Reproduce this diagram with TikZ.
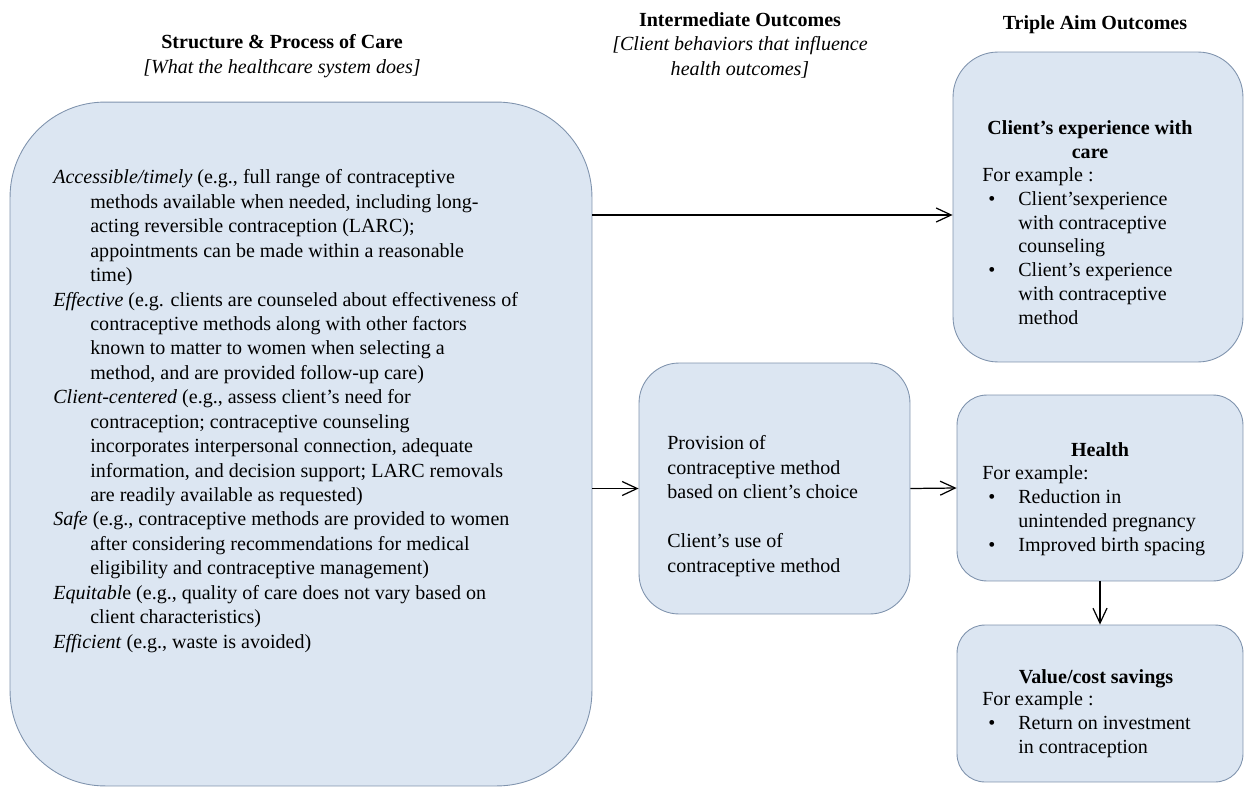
\documentclass[tikz,border=0pt]{standalone}
\usepackage{fontspec}
\setmainfont{Liberation Serif}
\usetikzlibrary{arrows.meta,positioning}
\definecolor{boxfill}{HTML}{DCE6F2}
\definecolor{boxline}{HTML}{7F93AD}
\newcommand{\ind}{\hspace*{0.74cm}}
\newcommand{\bul}{\hspace*{0.12cm}\makebox[0.6cm][l]{\textbullet}}
\newcommand{\cont}{\hspace*{0.72cm}}

\begin{document}
\begin{tikzpicture}[x=0.02cm, y=-0.02cm, font=\fontsize{11.4}{13.9}\selectfont,
 >={Straight Barb[length=3mm,width=2.8mm]},
 box/.style={draw=boxline,fill=boxfill,line width=.5pt,inner sep=0pt},
 arr/.style={->,line width=.7pt},
 txt/.style={inner sep=0pt,align=left,anchor=base west},
 rtxt/.style={txt,font=\fontsize{11.4}{13.5}\selectfont},
 head/.style={inner sep=0pt,align=center,anchor=base}]
\useasboundingbox (0,0) rectangle (1245,788);
% boxes
\node[box,rounded corners=1.9cm,minimum width=11.64cm,minimum height=13.68cm] (care) at (301,444) {};
\node[box,rounded corners=.8cm,minimum width=5.42cm,minimum height=5.02cm] (mid) at (774.5,488.5) {};
\node[box,rounded corners=.9cm,minimum width=5.8cm,minimum height=6.2cm] (exp) at (1098,207) {};
\node[box,rounded corners=.6cm,minimum width=5.72cm,minimum height=3.72cm] (health) at (1100,488) {};
\node[box,rounded corners=.56cm,minimum width=5.72cm,minimum height=3.14cm] (value) at (1100,703.5) {};
% column headings (base = last line)
\node[head] (hcare) at (282,73) {\textbf{Structure \& Process of Care}\\\textit{[What the healthcare system does]}};
\node[head] (hmid) at (740,75) {\textbf{Intermediate Outcomes}\\\textit{[Client behaviors that influence}\\\textit{health outcomes]}};
\node[head] (haim) at (1095,29) {\textbf{Triple Aim Outcomes}};
% box texts
\node[txt] (caretxt) at (53,648) {\textit{Accessible/timely} (e.g., full range of contraceptive\\
\ind methods available when needed, including long-\\
\ind acting reversible contraception (LARC);\\
\ind appointments can be made within a reasonable\\
\ind time)\\
\textit{Effective} (e.g. clients are counseled about effectiveness of\\
\ind contraceptive methods along with other factors\\
\ind known to matter to women when selecting a\\
\ind method, and are provided follow-up care)\\
\textit{Client-centered} (e.g., assess client's need for\\
\ind contraception; contraceptive counseling\\
\ind incorporates interpersonal connection, adequate\\
\ind information, and decision support; LARC removals\\
\ind are readily available as requested)\\
\textit{Safe} (e.g., contraceptive methods are provided to women\\
\ind after considering recommendations for medical\\
\ind eligibility and contraceptive management)\\
\textit{Equitabl}e (e.g., quality of care does not vary based on\\
\ind client characteristics)\\
\textit{Efficient} (e.g., waste is avoided)};
\node[txt] (midtxt) at (667,572) {Provision of\\contraceptive method\\based on client's choice\\[13.9pt]
Client's use of\\contraceptive method};
\node[head,font=\fontsize{11.4}{13.5}\selectfont] (exphead) at (1090,158) {\textbf{Client's experience with}\\\textbf{care}};
\node[rtxt] (exptxt) at (982,324) {For example :\\
\bul Client'sexperience\\
\cont with contraceptive\\
\cont counseling\\
\bul Client's experience\\
\cont with contraceptive\\
\cont method};
\node[head] (healthhead) at (1100,456) {\textbf{Health}};
\node[rtxt] (healthtxt) at (982,551) {For example:\\
\bul Reduction in\\
\cont unintended pregnancy\\
\bul Improved birth spacing};
\node[head] (valuehead) at (1096,683) {\textbf{Value/cost savings}};
\node[rtxt] (valuetxt) at (982,753) {For example :\\
\bul Return on investment\\
\cont in contraception};
% connectors
\draw[arr] ([yshift=-.16cm]exp.west -| care.east) -- ([yshift=-.16cm]exp.west);
\draw[arr] (care.east |- mid.west) -- (mid.west);
\draw[arr] (mid.east) -- (health.west);
\draw[arr] (health.south) -- (value.north);
\end{tikzpicture}
\end{document}
